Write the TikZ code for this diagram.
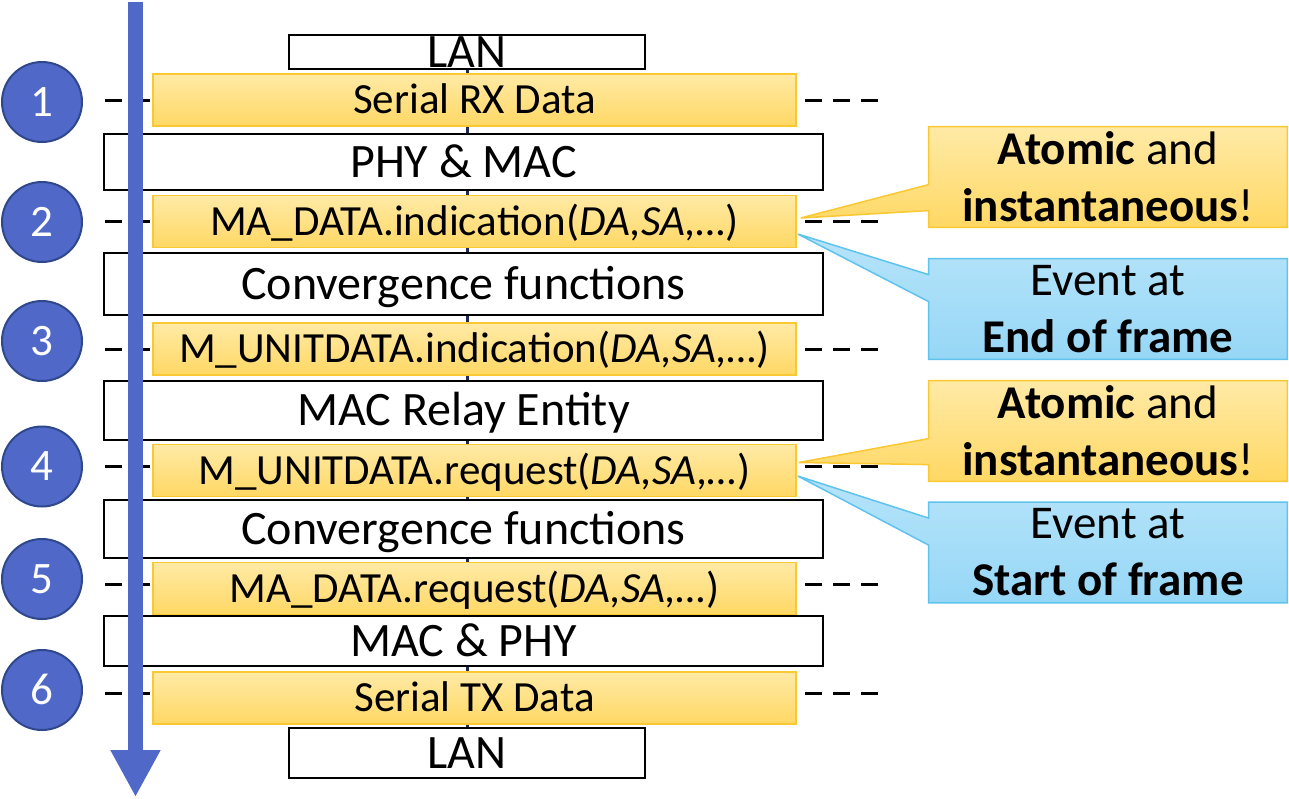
\documentclass[tikz,border=0pt]{standalone}
\usepackage{fontspec}
\setmainfont{Carlito}
\usetikzlibrary{calc,positioning,arrows.meta,backgrounds}
\definecolor{flowblue}{RGB}{80,104,200}
\definecolor{circline}{RGB}{47,72,140}
\definecolor{spinecol}{RGB}{31,42,80}
\definecolor{yelT}{RGB}{255,234,166}
\definecolor{yelB}{RGB}{255,216,100}
\definecolor{yelE}{RGB}{250,200,50}
\definecolor{bluT}{RGB}{183,228,250}
\definecolor{bluB}{RGB}{150,215,246}
\definecolor{bluE}{RGB}{95,195,237}
\tikzset{
  layer/.style={ % white box of a protocol layer
    draw=black, fill=white, line width=1pt, inner sep=0pt,
    minimum width=359.5pt, text height=15.2pt, text depth=0pt,
    font=\fontsize{24}{28}\selectfont
  },
  lanbox/.style={layer, minimum width=178pt},
  prim/.style={ % yellow row of a service primitive
    draw=yelE, line width=0.75pt, top color=yelT, bottom color=yelB,
    inner sep=0pt, minimum width=321.5pt, minimum height=26pt,
    text height=13.6pt, text depth=0pt,
    font=\fontsize{21.5}{26}\selectfont
  },
  stepnum/.style={ % numbered blue disc
    circle, draw=circline, line width=1pt, fill=flowblue, text=white,
    minimum size=40pt, inner sep=0pt, text height=14.2pt, text depth=0pt,
    font=\fontsize{22.5}{27}\selectfont
  },
  note/.style={ % text of a callout, its outline is drawn below
    minimum width=179pt, minimum height=50pt, inner sep=0pt, align=center,
    font=\fontsize{23.5}{28.5}\selectfont
  },
  noteY/.style={draw=yelE, line width=0.75pt, top color=yelT, bottom color=yelB},
  noteB/.style={draw=bluE, line width=0.75pt, top color=bluT, bottom color=bluB},
  tick/.style={line width=1.5pt, dash pattern=on 8.5pt off 5.5pt},
  spine/.style={line width=1.5pt, spinecol},
  flow/.style={line width=7.5pt, flowblue, -{Triangle[width=23.5pt,length=23.5pt]}}
}

\begin{document}
\begin{tikzpicture}[x=0.5pt,y=-0.5pt]
  \useasboundingbox (0,0) rectangle (1289,798);

  % the stack
  \node[lanbox, minimum height=17pt] (lanT) at (467,52) {LAN};
  \node[prim] (r1) at (474.5,100) {Serial RX Data};
  \node[layer, minimum height=28pt] (phy) at (463.5,162) {PHY \& MAC};
  \node[prim] (r2) at (474.5,221.5) {MA\_DATA.indication(\textit{DA,SA,…})};
  \node[layer, minimum height=31pt] (conv1) at (463.5,284) {Convergence functions};
  \node[prim] (r3) at (474.5,349) {M\_UNITDATA.indication(\textit{DA,SA,…})};
  \node[layer, minimum height=29.5pt] (relay) at (463.5,410.5) {MAC Relay Entity};
  \node[prim] (r4) at (474.5,470.5) {M\_UNITDATA.request(\textit{DA,SA,…})};
  \node[layer, minimum height=29pt] (conv2) at (463.5,529) {Convergence functions};
  \node[prim] (r5) at (474.5,588.5) {MA\_DATA.request(\textit{DA,SA,…})};
  \node[layer, minimum height=25pt] (mac) at (463.5,641) {MAC \& PHY};
  \node[prim] (r6) at (474.5,698) {Serial TX Data};
  \node[lanbox, minimum height=25pt] (lanB) at (467,753) {LAN};

  % callouts
  \node[note] (at1) at (1108,177) {\textbf{Atomic} and\\\textbf{instantaneous}!};
  \node[note] (ev1) at (1108,309) {Event at\\\textbf{End of frame}};
  \node[note] (at2) at (1108,431) {\textbf{Atomic} and\\\textbf{instantaneous}!};
  \node[note] (ev2) at (1108,552.5) {Event at\\\textbf{Start of frame}};

  \begin{scope}[on background layer]
    \draw[spine] (lanT) -- (lanB);
    \draw[tick] ($(r1.west)+(-47,0)$) -- ($(r1.east)+(84,0)$);
    \draw[tick] ($(r2.west)+(-47,0)$) -- ($(r2.east)+(84,0)$);
    \draw[tick] ($(r3.west)+(-47,0)$) -- ($(r3.east)+(84,0)$);
    \draw[tick] ($(r4.west)+(-47,-4.5)$) -- ($(r4.east)+(84,-4.5)$);
    \draw[tick] ($(r5.west)+(-47,-4.5)$) -- ($(r5.east)+(84,-4.5)$);
    \draw[tick] ($(r6.west)+(-47,-5)$) -- ($(r6.east)+(84,-5)$);

    \path[noteY] (at1.north west) -- (at1.north east) -- (at1.south east) -- (at1.south west)
      -- ($(at1.north west)+(0,84)$) -- ($(r2.east)+(4,-3.5)$) -- ($(at1.north west)+(0,58)$) -- cycle;
    \path[noteB] (ev1.north west) -- (ev1.north east) -- (ev1.south east) -- (ev1.south west)
      -- ($(ev1.north west)+(0,43)$) -- ($(r2.east)+(1,12.5)$) -- ($(ev1.north west)+(0,16)$) -- cycle;
    \path[noteY] (at2.north west) -- (at2.north east) -- (at2.south east) -- (at2.south west)
      -- ($(at2.north west)+(0,84)$) -- ($(r4.east)+(2,-8)$) -- ($(at2.north west)+(0,58)$) -- cycle;
    \path[noteB] (ev2.north west) -- (ev2.north east) -- (ev2.south east) -- (ev2.south west)
      -- ($(ev2.north west)+(0,43)$) -- ($(r4.east)+(1,5.5)$) -- ($(ev2.north west)+(0,16)$) -- cycle;
  \end{scope}

  % time runs downwards
  \coordinate (flowtop) at (135.5,2);
  \coordinate (flowend) at (135.5,797);
  \draw[flow] (flowtop) -- (flowend);

  \node[stepnum] (s1) at (42,102) {1};
  \node[stepnum] (s2) at (42,222) {2};
  \node[stepnum] (s3) at (42,341) {3};
  \node[stepnum] (s4) at (42,466.5) {4};
  \node[stepnum] (s5) at (42,579) {5};
  \node[stepnum] (s6) at (42,690) {6};
\end{tikzpicture}
\end{document}
